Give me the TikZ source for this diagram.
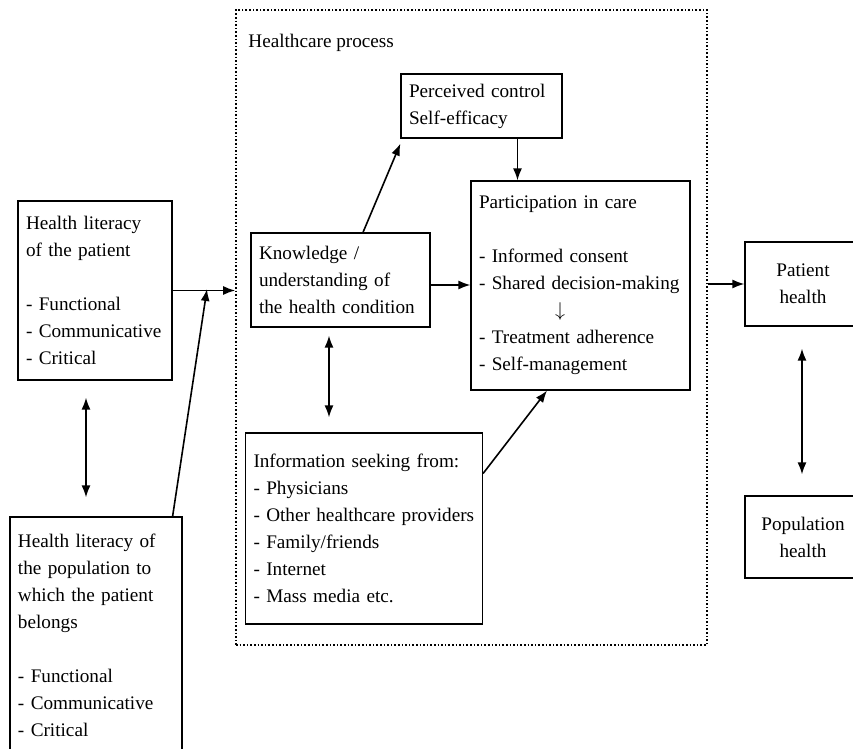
\documentclass[tikz,border=0pt]{standalone}
\usepackage{fontspec}
\setmainfont{Liberation Serif}
\usetikzlibrary{arrows.meta}

\begin{document}
\begin{tikzpicture}[x=0.5pt,y=-0.5pt,font=\fontsize{9.6}{13.5}\selectfont,
    box/.style={draw,semithick,align=left,inner xsep=4pt,
      execute at begin node={\hyphenpenalty=10000\exhyphenpenalty=10000}},
    >={Latex[length=6pt,width=4.5pt]}]
    \clip (0,0) rectangle (853,749);
    \node[draw,densely dotted,thick,minimum width=235.5pt,minimum height=317.5pt] (process) at (471.5,327.5) {};
    \node[anchor=west,inner sep=0pt] (processlabel) at (248,43) {Healthcare process};
    \node[box,text width=69pt,minimum height=89.5pt] (litpat) at (95,290.5) {Health literacy\\of the patient\\[13.5pt]- Functional\\- Communicative\\- Critical};
    \node[box,text width=78pt,minimum height=118pt] (litpop) at (96,635) {Health literacy of\\the population to\\which the patient\\belongs\\[13.5pt]- Functional\\- Communicative\\- Critical};
    \node[box,text width=81.5pt,minimum height=47pt] (know) at (340.5,280) {Knowledge /\\understanding of\\the health condition};
    \node[box,text width=72.5pt,minimum height=32pt] (perc) at (481.5,106) {Perceived control\\Self-efficacy};
    \node[box,text width=101.5pt,minimum height=104.5pt] (part) at (580.5,285.5) {Participation in care\\[13.5pt]- Informed consent\\- Shared decision-making\\\hspace*{38pt}$\downarrow$\\- Treatment adherence\\- Self-management};
    \node[box,text width=110.5pt,minimum height=95.5pt] (info) at (364,528.5) {Information seeking from:\\- Physicians\\- Other healthcare providers\\- Family/friends\\- Internet\\- Mass media etc.};
    \node[box,align=center,minimum width=58pt,minimum height=42pt] (pathealth) at (803,284) {Patient\\health};
    \node[box,align=center,minimum width=58pt,minimum height=41pt] (pophealth) at (803,537) {Population\\health};
    \coordinate (join) at (207,289);
    \draw[thick,->] (litpat.east) -- (litpat.east -| process.west);
    \draw[thick,->] ([xshift=-5pt]litpop.north east) -- (join);
    \draw[thick,<->,shorten <=8.5pt,shorten >=9.5pt] ([xshift=-4.5pt]litpat.south) -- ([xshift=-4.5pt]litpat.south |- litpop.north);
    \draw[thick,->] ([xshift=11.25pt]know.north) -- ([yshift=-2.5pt]perc.south west);
    \draw[thick,->] ([xshift=18pt]perc.south) -- ([xshift=18pt]perc.south |- part.north);
    \draw[thick,->] ([yshift=-2.5pt]know.east) -- ([yshift=-2.5pt]know.east -| part.west);
    \draw[thick,<->,shorten <=4pt,shorten >=7.5pt] ([xshift=-5.75pt]know.south) -- ([xshift=-5.75pt]know.south |- info.north);
    \draw[thick,->] ([yshift=27.5pt]info.east) -- ([xshift=-16.75pt]part.south);
    \draw[thick,->] (process.east |- pathealth.west) -- (pathealth.west);
    \draw[thick,<->,shorten <=11pt,shorten >=10.5pt] ([xshift=-0.5pt]pathealth.south) -- ([xshift=-0.5pt]pophealth.north);
\end{tikzpicture}
\end{document}
